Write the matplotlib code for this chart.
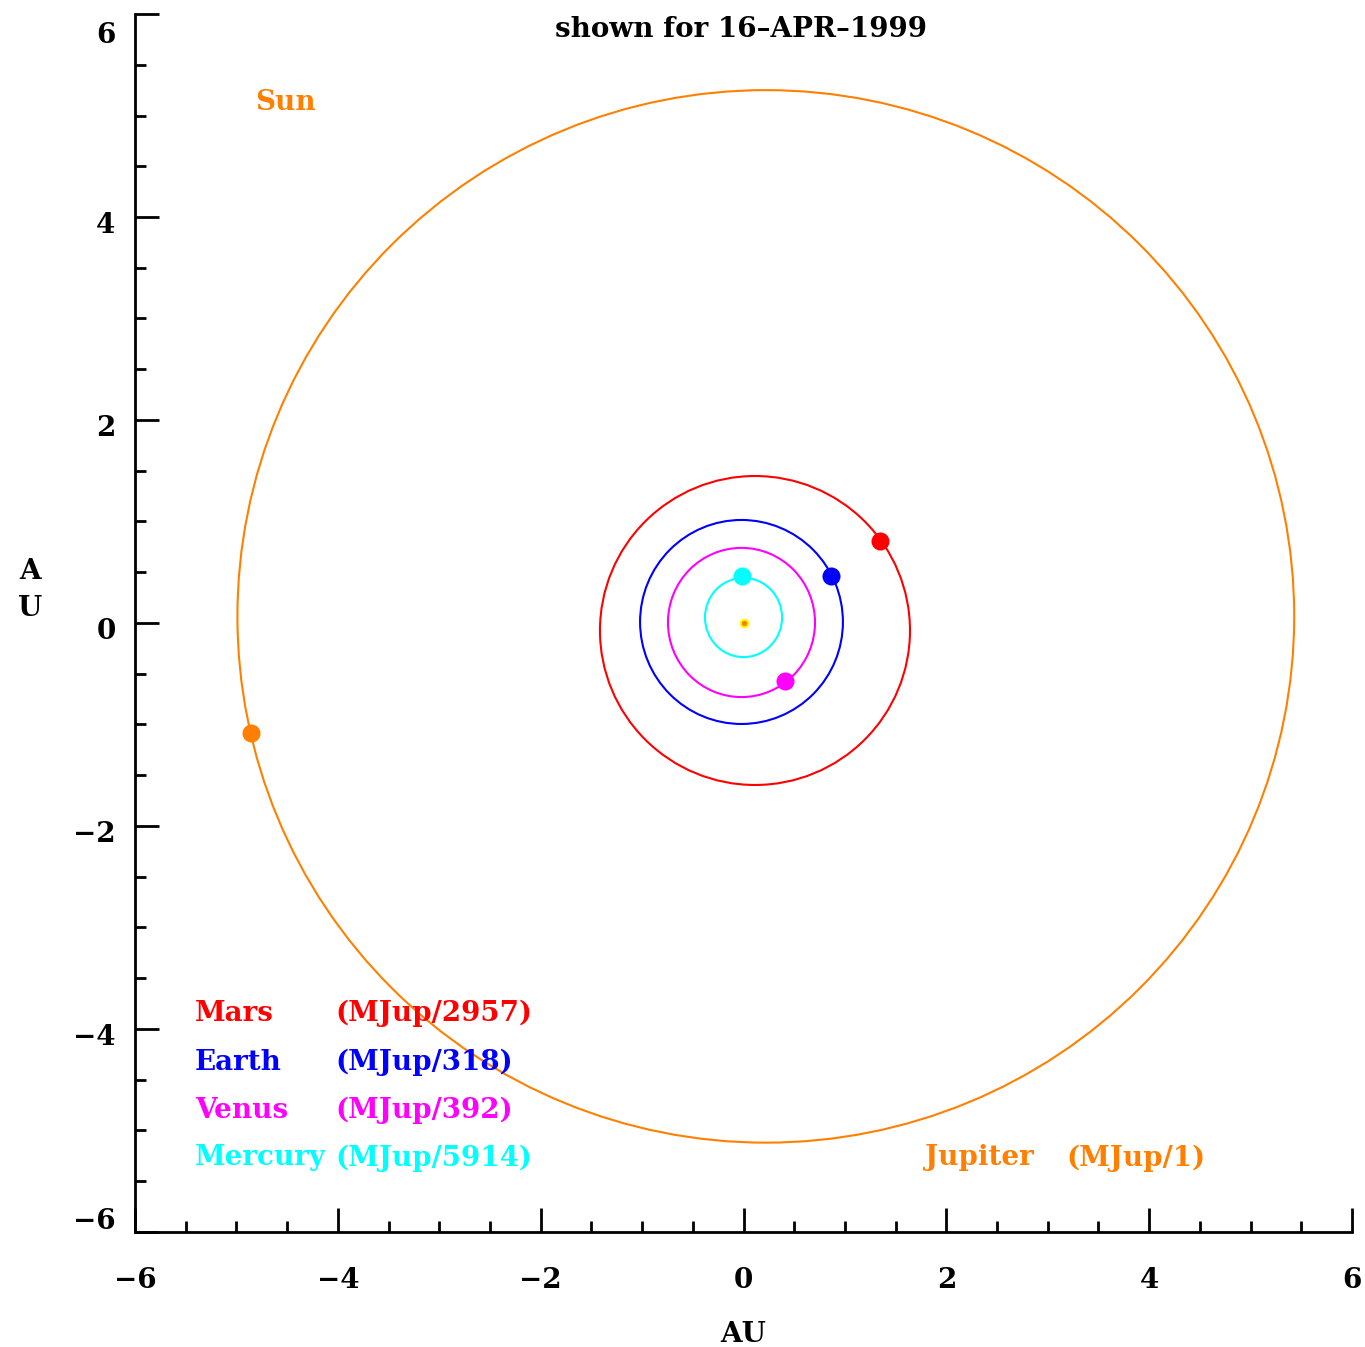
import matplotlib
matplotlib.use("Agg")
import matplotlib.pyplot as plt
from matplotlib.patches import Ellipse
from matplotlib.transforms import ScaledTranslation

# planets (AU)
planets = ["Mercury", "Venus", "Earth", "Mars", "Jupiter"]
mass_labels = ["(MJup/5914)", "(MJup/392)", "(MJup/318)", "(MJup/2957)", "(MJup/1)"]
colors = ["#00ffff", "#ff00ff", "#0000ff", "#ff0000", "#ff8000"]

orbit_cx = [0.00, -0.02, -0.02, 0.113, 0.22]
orbit_cy = [0.054, 0.005, 0.01, -0.074, 0.065]
orbit_w = [0.76, 1.45, 2.00, 3.057, 10.42]
orbit_h = [0.78, 1.47, 2.01, 3.044, 10.37]

pos_x = [-0.015, 0.409, 0.863, 1.346, -4.857]
pos_y = [0.463, -0.571, 0.463, 0.808, -1.084]

FONT = "DejaVu Serif"
FS = 20
plt.rcParams['font.family'] = FONT
plt.rcParams['font.weight'] = 'bold'

fig = plt.figure(figsize=(13.65, 13.47), dpi=100)
ax = fig.add_axes([0.0989, 0.0854, 0.8916, 0.9042])

for cx, cy, w, h, c in zip(orbit_cx, orbit_cy, orbit_w, orbit_h, colors):
    ax.add_patch(Ellipse((cx, cy), w, h, fill=False, edgecolor=c, linewidth=1.5))

for x, y, c in zip(pos_x, pos_y, colors):
    ax.plot(x, y, 'o', color=c, markersize=13, markeredgewidth=0)

# the sun
ax.plot(0, 0, 'o', color="#ffff00", markersize=7, markeredgewidth=0)
ax.plot(0, 0, 'o', color="#ff8000", markersize=4, markeredgewidth=0)

ax.set_xlim(-6, 6)
ax.set_ylim(-6, 6)

for s in ['top', 'right']:
    ax.spines[s].set_visible(False)
for s in ['left', 'bottom']:
    ax.spines[s].set_linewidth(2)

ax.set_xticks([-6, -4, -2, 0, 2, 4, 6])
ax.set_yticks([-6, -4, -2, 0, 2, 4, 6])
ax.set_xticks([v / 2 for v in range(-11, 12) if v % 4 != 0], minor=True)
ax.set_yticks([v / 2 for v in range(-11, 12) if v % 4 != 0], minor=True)
ax.tick_params(which='major', direction='in', length=17, width=2)
ax.tick_params(which='minor', direction='in', length=8, width=2)
ax.tick_params(axis='x', which='major', pad=25, labelsize=FS)
ax.tick_params(axis='y', which='major', pad=14, labelsize=FS)

# y tick labels sit a little below their ticks, end labels pulled inwards
shifts = [10, -4, -4, -4, -4, -4, -13]
for tick, dy in zip(ax.yaxis.get_major_ticks(), shifts):
    lab = tick.label1
    lab.set_transform(lab.get_transform() + ScaledTranslation(0, dy / 72, fig.dpi_scale_trans))

ax.set_xlabel("AU", fontsize=FS, fontweight='bold', labelpad=20)
fig.text(0.022, 0.562, "A\nU", fontsize=FS, fontweight='bold', ha='center', va='center',
         linespacing=1.45)

ax.text(-0.02, 5.85, "shown for 16\u2013APR\u20131999", fontsize=FS, ha='center', va='center')
ax.text(-4.82, 5.13, "Sun", color=colors[4], fontsize=FS, ha='left', va='center')

# legend block
leg_y = [-5.27, -4.80, -4.33, -3.85]
for i in range(4):
    ax.text(-5.41, leg_y[i], planets[i], color=colors[i], fontsize=FS, ha='left', va='center')
    ax.text(-4.02, leg_y[i], mass_labels[i], color=colors[i], fontsize=FS, ha='left', va='center')
ax.text(1.79, -5.27, planets[4], color=colors[4], fontsize=FS, ha='left', va='center')
ax.text(3.18, -5.27, mass_labels[4], color=colors[4], fontsize=FS, ha='left', va='center')

fig.savefig("out.png", dpi=100)
